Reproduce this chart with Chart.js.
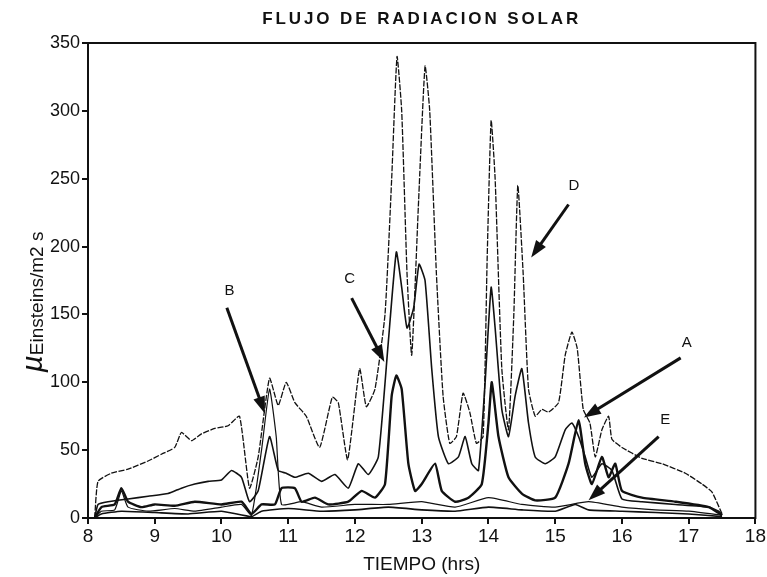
<!DOCTYPE html>
<html>
<head>
<meta charset="utf-8">
<script src="https://cdn.jsdelivr.net/npm/chart.js@4"></script>
<style>
  html, body { margin: 0; padding: 0; background: #fff; }
  #wrap { width: 767px; height: 577px; }
</style>
</head>
<body>
<div id="wrap"><canvas id="solarChart"></canvas></div>
<script>
/* ── DATA ───────────────────────────────────── */
const chartTitle = 'FLUJO DE RADIACION SOLAR';
const yTitleMu = 'µ';
const yTitleRest = 'Einsteins/m2 s';
const xTicks = [8, 9, 10, 11, 12, 13, 14, 15, 16, 17, 18];
const yTicks = [0, 50, 100, 150, 200, 250, 300, 350];

const hoursD = [8.1, 8.15, 8.35, 8.6, 8.9, 9.1, 9.3, 9.4, 9.55, 9.7, 9.9, 10.1, 10.27, 10.42, 10.55, 10.72, 10.85, 10.97, 11.1, 11.27, 11.47, 11.66, 11.75, 11.89, 12.07, 12.17, 12.3, 12.45, 12.55, 12.63, 12.7, 12.78, 12.85, 12.95, 13.05, 13.12, 13.22, 13.32, 13.42, 13.52, 13.62, 13.72, 13.82, 13.92, 13.98, 14.04, 14.1, 14.2, 14.3, 14.38, 14.44, 14.52, 14.6, 14.7, 14.8, 14.9, 15.05, 15.15, 15.25, 15.33, 15.42, 15.52, 15.6, 15.7, 15.8, 15.85, 16.0, 16.3, 16.6, 16.95, 17.2, 17.35, 17.5];
const valuesD = [0, 27, 33, 36, 42, 47, 52, 63, 57, 62, 66, 68, 75, 22, 45, 103, 83, 100, 85, 75, 52, 89, 85, 43, 110, 82, 95, 150, 250, 340, 300, 180, 120, 230, 333, 300, 180, 90, 55, 60, 92, 78, 55, 60, 190, 293, 250, 110, 65, 150, 245, 180, 95, 75, 80, 78, 85, 120, 137, 125, 80, 70, 45, 65, 75, 58, 52, 44, 40, 33, 25, 19, 3];

const hoursC = [8.1, 8.15, 8.3, 8.6, 8.9, 9.2, 9.4, 9.6, 9.8, 10.0, 10.15, 10.3, 10.42, 10.55, 10.72, 10.85, 10.97, 11.1, 11.3, 11.5, 11.7, 11.9, 12.05, 12.2, 12.35, 12.5, 12.62, 12.7, 12.78, 12.88, 12.96, 13.05, 13.15, 13.25, 13.4, 13.55, 13.65, 13.75, 13.85, 13.95, 14.04, 14.1, 14.2, 14.3, 14.4, 14.5, 14.6, 14.7, 14.85, 15.0, 15.15, 15.25, 15.35, 15.45, 15.55, 15.7, 15.85, 16.0, 16.3, 16.8, 17.3, 17.45, 17.5];
const valuesC = [0, 10, 12, 14, 16, 18, 22, 25, 27, 28, 35, 30, 12, 20, 60, 35, 33, 30, 33, 27, 32, 22, 40, 32, 45, 130, 196, 170, 140, 155, 187, 175, 110, 60, 40, 45, 60, 40, 35, 100, 170, 140, 80, 60, 90, 110, 70, 45, 40, 45, 65, 70, 60, 45, 30, 40, 35, 14, 12, 10, 8, 5, 2];

const hoursA = [8.1, 8.2, 8.4, 8.5, 8.6, 8.8, 9.0, 9.3, 9.6, 10.0, 10.3, 10.45, 10.6, 10.8, 10.9, 11.1, 11.2, 11.4, 11.6, 11.9, 12.1, 12.3, 12.45, 12.55, 12.62, 12.7, 12.8, 12.9, 13.0, 13.2, 13.3, 13.5, 13.7, 13.9, 14.0, 14.05, 14.15, 14.3, 14.5, 14.7, 15.0, 15.2, 15.35, 15.45, 15.55, 15.7, 15.8, 15.9, 16.0, 16.3, 16.8, 17.3, 17.5];
const valuesA = [0, 8, 10, 22, 12, 8, 10, 9, 12, 10, 12, 3, 10, 10, 22, 22, 12, 15, 10, 12, 20, 15, 25, 90, 105, 95, 40, 20, 25, 40, 20, 12, 15, 25, 70, 100, 60, 30, 18, 13, 15, 40, 72, 40, 25, 45, 30, 40, 20, 15, 12, 8, 2];

const hoursB = [8.1, 8.2, 8.4, 8.5, 8.6, 8.9, 9.3, 9.6, 10.0, 10.3, 10.45, 10.6, 10.72, 10.82, 10.9, 11.2, 11.5, 12.0, 12.5, 13.0, 13.5, 14.0, 14.5, 15.0, 15.5, 16.0, 16.5, 17.0, 17.5];
const valuesB = [0, 5, 6, 20, 8, 5, 7, 5, 8, 10, 2, 50, 95, 60, 10, 12, 8, 10, 10, 12, 8, 15, 10, 8, 12, 8, 6, 5, 2];

const hoursE = [8.1, 8.2, 8.5, 9.0, 9.5, 10.0, 10.45, 10.6, 11.0, 11.5, 12.0, 12.5, 13.0, 13.5, 14.0, 14.5, 15.0, 15.3, 15.5, 16.0, 16.5, 17.0, 17.5];
const valuesE = [0, 3, 5, 4, 3, 5, 1, 5, 7, 5, 6, 8, 6, 5, 8, 6, 5, 10, 6, 5, 4, 3, 1];

// callouts: label position, arrow tail, arrow tip (data units)
const callouts = [
    { text: 'B', label: [10.12, 167], from: [10.08, 155], to: [10.65, 77] },
    { text: 'C', label: [11.92, 176], from: [11.95, 162], to: [12.44, 115] },
    { text: 'D', label: [15.28, 245], from: [15.2, 231], to: [14.64, 192] },
    { text: 'A', label: [16.97, 129], from: [16.88, 118], to: [15.43, 74] },
    { text: 'E', label: [16.65, 72], from: [16.55, 60], to: [15.5, 13] },
];

/* ── HELPERS ────────────────────────────────── */
const pts = (xs, ys) => xs.map((x, i) => ({ x, y: ys[i] }));
const ink = '#111';
const narrow = "'Liberation Sans Narrow', 'Liberation Sans', Arial, sans-serif";
const sans = "'Liberation Sans', Arial, sans-serif";

const frameAndCallouts = {
    id: 'frameAndCallouts',
    afterDatasetsDraw(chart) {
        const { ctx, chartArea: a, scales: { x, y } } = chart;
        ctx.save();
        ctx.strokeStyle = ink;
        ctx.lineWidth = 2;
        ctx.strokeRect(a.left, a.top, a.right - a.left, a.bottom - a.top);

        ctx.fillStyle = ink;
        ctx.font = '15px ' + sans;
        ctx.textAlign = 'center';
        ctx.textBaseline = 'middle';
        callouts.forEach(c => {
            ctx.fillText(c.text, x.getPixelForValue(c.label[0]), y.getPixelForValue(c.label[1]));
            const x0 = x.getPixelForValue(c.from[0]), y0 = y.getPixelForValue(c.from[1]);
            const x1 = x.getPixelForValue(c.to[0]),   y1 = y.getPixelForValue(c.to[1]);
            const ang = Math.atan2(y1 - y0, x1 - x0);
            ctx.lineWidth = 3;
            ctx.beginPath();
            ctx.moveTo(x0, y0);
            ctx.lineTo(x1 - 10 * Math.cos(ang), y1 - 10 * Math.sin(ang));
            ctx.stroke();
            ctx.beginPath();
            ctx.moveTo(x1, y1);
            ctx.lineTo(x1 - 17 * Math.cos(ang) + 6 * Math.sin(ang), y1 - 17 * Math.sin(ang) - 6 * Math.cos(ang));
            ctx.lineTo(x1 - 17 * Math.cos(ang) - 6 * Math.sin(ang), y1 - 17 * Math.sin(ang) + 6 * Math.cos(ang));
            ctx.closePath();
            ctx.fill();
        });

        // title, letter-spaced like the scan
        ctx.font = 'bold 17px ' + sans;
        ctx.letterSpacing = '2.9px';
        ctx.fillText(chartTitle, (a.left + a.right) / 2, 19);
        ctx.letterSpacing = '0px';

        // y title: big italic mu then the unit, rotated
        ctx.translate(38, 302);
        ctx.rotate(-Math.PI / 2);
        ctx.textAlign = 'left';
        ctx.font = 'italic 30px ' + sans;
        const muW = ctx.measureText(yTitleMu).width;
        ctx.font = '19px ' + sans;
        const restW = ctx.measureText(yTitleRest).width;
        const start = -(muW + restW) / 2;
        ctx.font = 'italic 30px ' + sans;
        ctx.fillText(yTitleMu, start, -4);
        ctx.font = '19px ' + sans;
        ctx.fillText(yTitleRest, start + muW, 0);
        ctx.restore();
    }
};

const line = (label, data, width, dash) => ({
    label, data,
    borderColor: ink, backgroundColor: 'transparent',
    borderWidth: width, borderDash: dash || [],
    pointRadius: 0, tension: 0.15, fill: false,
});

/* ── CHART ──────────────────────────────────── */
new Chart(document.getElementById('solarChart'), {
    type: 'line',
    data: {
        datasets: [
            line('D', pts(hoursD, valuesD), 1.3, [6, 1.5]),
            line('C', pts(hoursC, valuesC), 1.6),
            line('A', pts(hoursA, valuesA), 2.4),
            line('B', pts(hoursB, valuesB), 1.2),
            line('E', pts(hoursE, valuesE), 1.6),
        ]
    },
    plugins: [frameAndCallouts],
    options: {
        responsive: true, maintainAspectRatio: false, animation: false,
        layout: { padding: { top: 43, right: 10, bottom: 1, left: 14 } },
        plugins: {
            legend: { display: false },
            tooltip: { enabled: false },
        },
        scales: {
            x: {
                type: 'linear', min: 8, max: 18,
                afterBuildTicks: s => { s.ticks = xTicks.map(v => ({ value: v })); },
                afterFit: s => { s.height = 58; },
                grid: { drawOnChartArea: false, drawTicks: true, tickLength: 6, color: ink, lineWidth: 2 },
                border: { color: ink, width: 2 },
                ticks: { color: ink, font: { family: narrow, size: 19 }, padding: 1, maxRotation: 0 },
                title: { display: true, text: 'TIEMPO (hrs)', color: ink,
                         font: { family: narrow, size: 19 }, padding: { top: 4, bottom: 0 } }
            },
            y: {
                min: 0, max: 350,
                afterBuildTicks: s => { s.ticks = yTicks.map(v => ({ value: v })); },
                afterFit: s => { s.width = 74; },
                grid: { drawOnChartArea: false, drawTicks: true, tickLength: 6, color: ink, lineWidth: 2 },
                border: { color: ink, width: 2 },
                ticks: { color: ink, font: { family: sans, size: 18 }, padding: 2 }
            }
        }
    }
});
</script>
</body>
</html>
